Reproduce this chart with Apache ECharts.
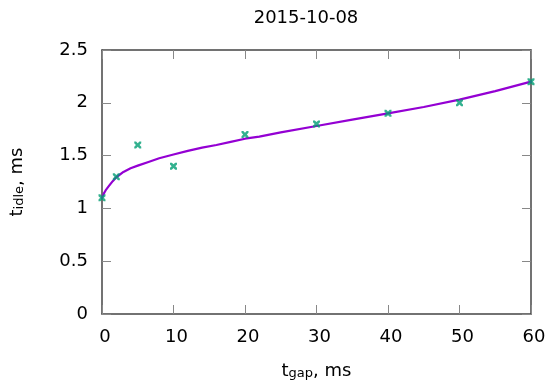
<!DOCTYPE html>
<html>
<head>
<meta charset="utf-8">
<script src="https://cdn.jsdelivr.net/npm/echarts@6/dist/echarts.min.js"></script>
<style>html,body{margin:0;padding:0;background:#fff}#c{width:546px;height:383px}</style>
</head>
<body>
<div id="c"></div>
<script>
var titleText = "2015-10-08";
var measX = [0, 2, 5, 10, 20, 30, 40, 50, 60];
var measY = [1.1, 1.3, 1.6, 1.4, 1.7, 1.8, 1.9, 2.0, 2.2];
var fitX = [0, 0.25, 0.5, 1, 1.5, 2, 3, 4, 5, 6.5, 8, 10, 12, 14, 16, 18, 20, 22, 25, 30, 35, 40, 45, 50, 55, 60];
var fitY = [1.10, 1.14, 1.17, 1.215, 1.258, 1.295, 1.345, 1.38, 1.405, 1.44, 1.475, 1.51, 1.545, 1.575, 1.60, 1.63, 1.66, 1.68, 1.72, 1.78, 1.84, 1.90, 1.96, 2.03, 2.11, 2.20];
var xTicks = [0, 10, 20, 30, 40, 50, 60];
var yTicks = [0, 0.5, 1, 1.5, 2, 2.5];

var FONT = "DejaVu Sans";
var lineCol = '#444';
var tickCol = '#888';
function pairs(xs, ys){ return xs.map(function(x,i){ return [x, ys[i]]; }); }
var crossPath = 'path://M0,0 L2.6,0 L5,2.4 L7.4,0 L10,0 L10,2.6 L7.6,5 L10,7.4 L10,10 L7.4,10 L5,7.6 L2.6,10 L0,10 L0,7.4 L2.4,5 L0,2.6 Z';

function xAxisCfg(pos, show){
  return {
    type: 'value', position: pos,
    min: xTicks[0], max: xTicks[xTicks.length-1], interval: xTicks[1]-xTicks[0],
    axisLine: {show: true, onZero: false, lineStyle: {color: lineCol, width: 1.5}},
    axisTick: {show: true, inside: true, length: 9, lineStyle: {color: tickCol, width: 1}},
    splitLine: {show: false},
    axisLabel: {show: show, margin: 14, color: '#000', fontFamily: FONT, fontSize: 18, padding: [0,0,0,6]},
    name: show ? '{a|t}{b|gap}{a|, ms}' : '',
    nameLocation: 'middle', nameGap: 48,
    nameTextStyle: {
      color: '#000', fontFamily: FONT,
      rich: {
        a: {fontSize: 18, fontFamily: FONT, color: '#000', verticalAlign: 'top', lineHeight: 18},
        b: {fontSize: 13, fontFamily: FONT, color: '#000', verticalAlign: 'bottom', padding: [9,0,0,0], lineHeight: 13}
      }
    }
  };
}
function yAxisCfg(pos, show){
  return {
    type: 'value', position: pos,
    min: yTicks[0], max: yTicks[yTicks.length-1], interval: yTicks[1]-yTicks[0],
    axisLine: {show: true, onZero: false, lineStyle: {color: lineCol, width: 1.5}},
    axisTick: {show: true, inside: true, length: 9, lineStyle: {color: tickCol, width: 1}},
    splitLine: {show: false},
    axisLabel: {show: show, margin: 14, color: '#000', fontFamily: FONT, fontSize: 18},
    name: show ? '{a|t}{b|idle}{a|, ms}' : '',
    nameLocation: 'middle', nameGap: 76, nameRotate: 90,
    nameTextStyle: {
      color: '#000', fontFamily: FONT,
      rich: {
        a: {fontSize: 18, fontFamily: FONT, color: '#000', verticalAlign: 'top', lineHeight: 18},
        b: {fontSize: 13, fontFamily: FONT, color: '#000', verticalAlign: 'bottom', padding: [9,0,0,0], lineHeight: 13}
      }
    }
  };
}

var chart = echarts.init(document.getElementById('c'), null, {renderer: 'canvas'});
chart.setOption({
  animation: false,
  backgroundColor: '#fff',
  title: {
    text: titleText, left: 301, top: 4, textAlign: 'center',
    textStyle: {fontFamily: FONT, fontSize: 18, fontWeight: 'normal', color: '#000'}
  },
  grid: {left: 102, right: 15, top: 50, bottom: 69, containLabel: false, outerBoundsMode: 'none'},
  xAxis: [xAxisCfg('bottom', true), xAxisCfg('top', false)],
  yAxis: [yAxisCfg('left', true), yAxisCfg('right', false)],
  series: [
    {
      type: 'line', xAxisIndex: 0, yAxisIndex: 0,
      data: pairs(fitX, fitY), smooth: false, showSymbol: false, symbol: 'none',
      lineStyle: {color: '#9400d3', width: 2.2, join: 'round', cap: 'round'}, z: 2
    },
    {
      type: 'scatter', xAxisIndex: 0, yAxisIndex: 0,
      data: pairs(measX, measY), symbol: crossPath, symbolSize: 7,
      itemStyle: {color: '#009e73'}, z: 3
    }
  ]
});
</script>
</body>
</html>
